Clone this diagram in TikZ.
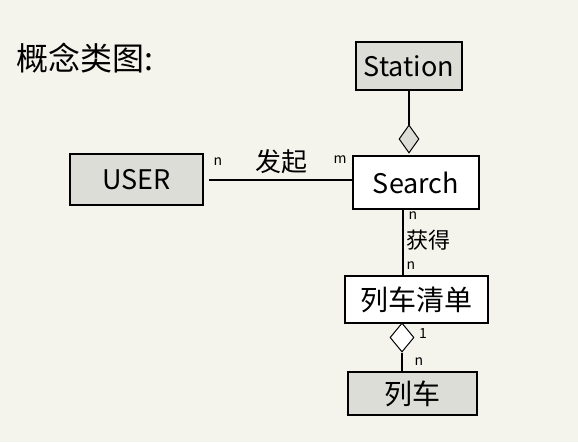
\documentclass[tikz,border=0pt]{standalone}
\usepackage{fontspec}
\setmainfont{Noto Sans CJK SC}
\usetikzlibrary{shapes.geometric}
\definecolor{bg}{HTML}{F5F4EC}
\definecolor{boxgray}{HTML}{DDDDD7}
\tikzset{
  cls/.style={draw=black, line width=1.2pt, inner sep=0pt, font=\fontsize{27}{29}\selectfont},
  grey/.style={cls, fill=boxgray},
  white/.style={cls, fill=white},
  agg/.style={draw=black, line width=1pt, diamond, inner sep=0pt},
  conn/.style={draw=black, line width=1.2pt},
  mult/.style={font=\fontsize{14}{15}\selectfont, inner sep=0pt},
  rel/.style={font=\fontsize{26}{28}\selectfont, inner sep=0pt}
}
\begin{document}
\begin{tikzpicture}[x=1pt,y=-1pt]
\fill[bg] (0,0) rectangle (578,442);
\useasboundingbox (0,0) rectangle (578,442);
\node[anchor=west, font=\fontsize{32}{34}\selectfont, inner sep=0pt] (title) at (16,58) {概念类图:};
\node[grey, minimum width=106pt, minimum height=48pt] (station) at (409,66) {Station};
\node[white, minimum width=126pt, minimum height=53pt] (search) at (416,182.5) {Search};
\node[grey, minimum width=133pt, minimum height=51pt] (user) at (136.5,179.5) {USER};
\node[white, minimum width=143pt, minimum height=47pt, font=\fontsize{28}{30}\selectfont] (list) at (416.5,299.5) {列车清单};
\node[grey, minimum width=129pt, minimum height=43pt, font=\fontsize{28}{30}\selectfont] (train) at (412.5,393.5) {列车};
\node[agg, fill=boxgray, minimum width=20pt, minimum height=28pt] (d1) at (409,139) {};
\node[agg, fill=white, minimum width=24pt, minimum height=29pt] (d2) at (402,337.5) {};
\coordinate (s1) at (409,90);
\draw[conn] (s1) -- (d1.north);
\coordinate (ua) at (209,180);
\coordinate (sa) at (353,180);
\draw[conn] (ua) -- (sa);
\node[mult] (m1) at (218,162) {n};
\node[rel] (r1) at (281,162) {发起};
\node[mult] (m2) at (340,160) {m};
\coordinate (sb) at (403,209);
\coordinate (lb) at (403,276);
\draw[conn] (sb) -- (lb);
\node[mult] (m3) at (413,216) {n};
\node[rel, font=\fontsize{22}{24}\selectfont] (r2) at (428,240) {获得};
\node[mult] (m4) at (411,266) {n};
\coordinate (tb) at (402,372);
\draw[conn] (d2.south) -- (tb);
\node[mult] (m5) at (423,334) {1};
\node[mult] (m6) at (419,362) {n};
\end{tikzpicture}
\end{document}
